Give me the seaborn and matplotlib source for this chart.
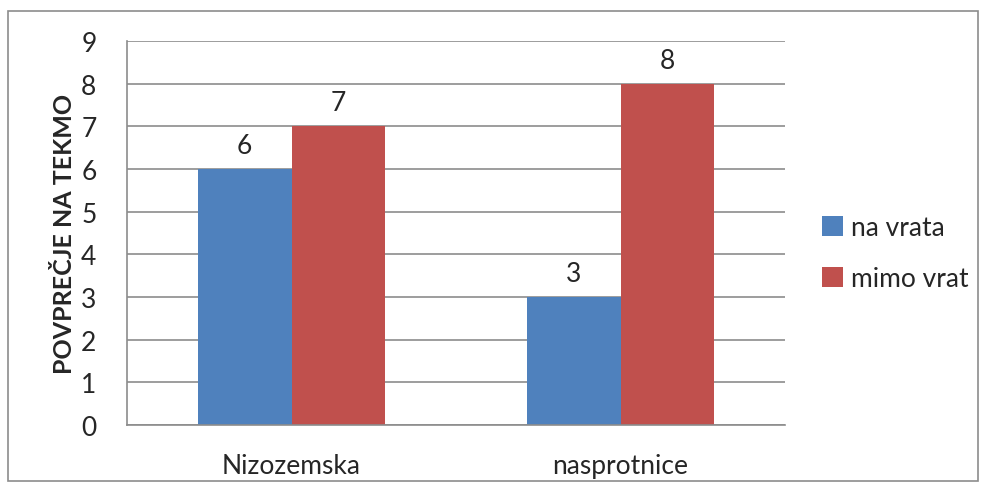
import matplotlib
matplotlib.use("Agg")
import matplotlib.pyplot as plt
import seaborn as sns
import pandas as pd
from matplotlib.patches import Rectangle

categories = ["Nizozemska", "nasprotnice"]
series_names = ["na vrata", "mimo vrat"]
na_vrata = [6, 3]
mimo_vrat = [7, 8]
y_ticks = list(range(0, 10))
colors = ["#4F81BD", "#C0504D"]

df = pd.DataFrame({
    "cat": categories * 2,
    "series": [series_names[0]] * 2 + [series_names[1]] * 2,
    "val": na_vrata + mimo_vrat,
})

sns.set_theme(style="white")
plt.rcParams["font.family"] = ["Lato", "DejaVu Sans"]

fig = plt.figure(figsize=(9.85, 4.89), dpi=100)
fig.patch.set_facecolor("white")
fig.add_artist(Rectangle((8 / 985, 7 / 489), 970 / 985, 470 / 489, transform=fig.transFigure,
                         fill=False, edgecolor="#8C8C8C", linewidth=1.2))
ax = fig.add_axes([127 / 985, 1 - 426 / 489, (785 - 127) / 985, (426 - 42) / 489])

sns.barplot(data=df, x="cat", y="val", hue="series", palette=colors, width=0.571,
            ax=ax, saturation=1, legend=True, linewidth=0, edgecolor="none")

ax.set_ylim(0, 9)
ax.set_xlim(-0.5, 1.5)
ax.set_yticks(y_ticks)
ax.set_yticklabels([str(t) for t in y_ticks], fontsize=19)
ax.yaxis.grid(True, color="#8C8C8C", linewidth=1.2)
ax.set_axisbelow(True)
ax.set_xlabel("")
ax.set_ylabel("POVPREČJE NA TEKMO", fontsize=18, fontweight="bold", labelpad=4)

for s in ["top", "right"]:
    ax.spines[s].set_visible(False)
for s in ["left", "bottom"]:
    ax.spines[s].set_color("#8C8C8C")
    ax.spines[s].set_linewidth(1.2)

ax.set_xticks([0, 1])
ax.set_xticklabels(categories, fontsize=19)
ax.tick_params(axis="x", length=0, pad=20)
ax.set_xticks([-0.5, 0.5, 1.5], minor=True)
ax.tick_params(axis="x", which="minor", length=7, color="#8C8C8C", width=1.2, direction="out")
ax.tick_params(axis="y", length=10, color="#8C8C8C", width=1.2, direction="out", pad=12)

for cont in ax.containers:
    ax.bar_label(cont, labels=[str(int(v)) for v in cont.datavalues], fontsize=19, padding=8)

leg = ax.legend(loc="center left", bbox_to_anchor=(1.04, 0.448), frameon=False, fontsize=19,
                handlelength=0.8, handleheight=0.8, handletextpad=0.3, labelspacing=1.0,
                borderaxespad=0)

fig.savefig("out.png", dpi=100)
